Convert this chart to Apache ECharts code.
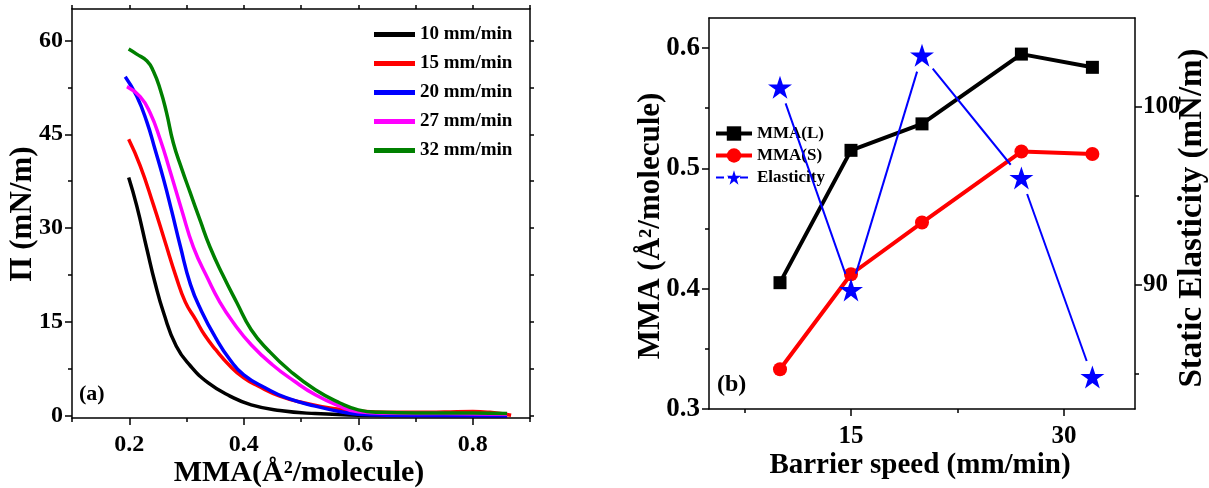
<!DOCTYPE html>
<html>
<head>
<meta charset="utf-8">
<script src="https://cdn.jsdelivr.net/npm/echarts@6/dist/echarts.min.js"></script>
<style>
  html, body { margin: 0; padding: 0; background: #fff; }
  #chart { width: 1209px; height: 488px; }
</style>
</head>
<body>
<div id="chart"></div>
<script>
// ---- Panel (a): surface pressure isotherms, [MMA, Π] pairs ----
const isotherm10 = [[0.199,38.1],[0.213,33.6],[0.231,26.6],[0.245,21.3],[0.260,16.5],[0.282,11.2],[0.307,8.0],[0.338,5.3],[0.376,3.2],[0.413,1.8],[0.463,0.9],[0.525,0.4],[0.60,0.15],[0.70,0.05],[0.80,0.05],[0.86,0.02]];
const isotherm15 = [[0.199,44.2],[0.219,40.0],[0.242,33.8],[0.262,28.0],[0.282,22.2],[0.298,18.2],[0.316,15.4],[0.332,12.9],[0.351,10.6],[0.376,8.0],[0.400,6.1],[0.425,4.8],[0.463,3.2],[0.506,2.1],[0.556,1.2],[0.60,0.8],[0.65,0.6],[0.70,0.6],[0.75,0.65],[0.80,0.75],[0.83,0.6],[0.867,0.15]];
const isotherm20 = [[0.193,54.2],[0.213,51.1],[0.231,46.9],[0.245,42.6],[0.260,37.8],[0.274,32.8],[0.289,27.2],[0.307,21.0],[0.326,16.8],[0.351,12.5],[0.376,9.0],[0.400,6.6],[0.438,4.5],[0.475,2.9],[0.525,1.6],[0.575,0.6],[0.60,0.3],[0.65,0.15],[0.75,0.1],[0.86,0.05]];
const isotherm27 = [[0.196,52.6],[0.219,51.0],[0.236,48.5],[0.254,44.2],[0.271,39.2],[0.292,32.8],[0.312,27.0],[0.338,21.8],[0.357,18.4],[0.382,14.9],[0.413,11.4],[0.450,8.2],[0.488,5.6],[0.525,3.4],[0.562,1.8],[0.60,0.7],[0.65,0.45],[0.75,0.4],[0.86,0.3]];
const isotherm32 = [[0.199,58.6],[0.213,57.8],[0.231,56.7],[0.242,55.1],[0.254,52.2],[0.265,48.5],[0.277,43.6],[0.292,39.4],[0.306,35.8],[0.324,31.2],[0.341,27.0],[0.363,22.6],[0.388,18.1],[0.413,13.8],[0.444,10.4],[0.481,7.2],[0.525,4.2],[0.568,2.1],[0.60,1.0],[0.637,0.6],[0.70,0.5],[0.80,0.5],[0.86,0.4]];
const isothermNames = ['10 mm/min', '15 mm/min', '20 mm/min', '27 mm/min', '32 mm/min'];
const isothermColors = ['#000000', '#ff0000', '#0000ff', '#ff00ff', '#008000'];

const mmaTicks = [0.2, 0.4, 0.6, 0.8];
const mmaMinorTicks = [0.1, 0.3, 0.5, 0.7, 0.9];
const piTicks = [0, 15, 30, 45, 60];
const piMinorTicks = [7.5, 22.5, 37.5, 52.5];

// ---- Panel (b): MMA and static elasticity vs barrier speed ----
const barrierSpeed = [10, 15, 20, 27, 32];
const mmaL = [0.405, 0.515, 0.537, 0.595, 0.584];
const mmaS = [0.333, 0.412, 0.455, 0.514, 0.512];
const elasticity = [101.1, 89.7, 102.9, 96.0, 84.8];

const speedTicks = [15, 30];
const speedMinorTicks = [7.5, 22.5];
const mmaBTicks = [0.3, 0.4, 0.5, 0.6];
const mmaBMinorTicks = [0.35, 0.45, 0.55];
const elasTicks = [90, 100];
const elasMinorTicks = [85, 95];

const FONT = '"Liberation Serif", "Times New Roman", serif';
const STAR = 'path://M50,0 L61.8,35.4 L100,35.4 L69.1,57.3 L80.9,95.1 L50,72 L19.1,95.1 L30.9,57.3 L0,35.4 L38.2,35.4 Z';

const chart = echarts.init(document.getElementById('chart'));

function axis(opts) {
  return {
    type: 'value',
    gridIndex: opts.grid,
    position: opts.pos,
    min: opts.min,
    max: opts.max,
    splitLine: { show: false },
    axisLine: { show: !!opts.line, onZero: false, lineStyle: { color: '#000', width: 1.5 } },
    axisTick: opts.ticks ? {
      show: true, inside: false, length: opts.len,
      customValues: opts.ticks, lineStyle: { color: '#000', width: 1.5 }
    } : { show: false },
    axisLabel: opts.labels ? {
      show: true, customValues: opts.labels, margin: opts.margin,
      formatter: opts.fmt || (v => String(v)),
      fontFamily: FONT, fontWeight: 'bold', fontSize: opts.labelSize, color: '#000'
    } : { show: false }
  };
}

const fmt1 = v => v.toFixed(1);

const xAxes = [
  axis({ grid: 0, pos: 'bottom', min: 0.1, max: 0.9, ticks: mmaTicks, len: 7, labels: mmaTicks, labelSize: 24, margin: 15, line: true, fmt: fmt1 }),
  axis({ grid: 0, pos: 'bottom', min: 0.1, max: 0.9, ticks: mmaMinorTicks, len: 4 }),
  axis({ grid: 0, pos: 'top', min: 0.1, max: 0.9, ticks: mmaTicks.concat(mmaMinorTicks), len: 4, line: true }),
  axis({ grid: 1, pos: 'bottom', min: 5, max: 35, ticks: speedTicks, len: 7, labels: speedTicks, labelSize: 25, margin: 15, line: true }),
  axis({ grid: 1, pos: 'bottom', min: 5, max: 35, ticks: speedMinorTicks, len: 4 }),
  axis({ grid: 1, pos: 'top', min: 5, max: 35, line: true })
];

const yAxes = [
  axis({ grid: 0, pos: 'left', min: -0.3, max: 65, ticks: piTicks, len: 7, labels: piTicks, labelSize: 24, margin: 9, line: true }),
  axis({ grid: 0, pos: 'left', min: -0.3, max: 65, ticks: piMinorTicks, len: 4 }),
  axis({ grid: 0, pos: 'right', min: -0.3, max: 65, ticks: piTicks.concat(piMinorTicks), len: 4, line: true }),
  axis({ grid: 1, pos: 'left', min: 0.3, max: 0.625, ticks: mmaBTicks, len: 7, labels: mmaBTicks, labelSize: 27, margin: 9, line: true, fmt: fmt1 }),
  axis({ grid: 1, pos: 'left', min: 0.3, max: 0.625, ticks: mmaBMinorTicks, len: 4 }),
  axis({ grid: 1, pos: 'right', min: 83, max: 105, ticks: elasTicks, len: 7, labels: elasTicks, labelSize: 25, margin: 8, line: true }),
  axis({ grid: 1, pos: 'right', min: 83, max: 105, ticks: elasMinorTicks, len: 4 })
];

const isotherms = [isotherm10, isotherm15, isotherm20, isotherm27, isotherm32];
const isothermSeries = isotherms.map((d, i) => ({
  name: isothermNames[i],
  type: 'line',
  xAxisIndex: 0,
  yAxisIndex: 0,
  data: d,
  symbol: 'none',
  smooth: 0.5,
  lineStyle: { color: isothermColors[i], width: 3.5 },
  itemStyle: { color: isothermColors[i] },
  emphasis: { disabled: true },
  z: 2 + i
}));

// elasticity connector segments, trimmed so they stop short of the stars
const elasSegments = barrierSpeed.slice(0, -1).map((s, i) =>
  [s, elasticity[i], barrierSpeed[i + 1], elasticity[i + 1]]);

const panelBSeries = [
  {
    name: 'MMA(L)', type: 'line', xAxisIndex: 3, yAxisIndex: 3,
    data: barrierSpeed.map((s, i) => [s, mmaL[i]]),
    symbol: 'rect', symbolSize: 13,
    lineStyle: { color: '#000', width: 4 }, itemStyle: { color: '#000' },
    emphasis: { disabled: true }, z: 3
  },
  {
    name: 'MMA(S)', type: 'line', xAxisIndex: 3, yAxisIndex: 3,
    data: barrierSpeed.map((s, i) => [s, mmaS[i]]),
    symbol: 'circle', symbolSize: 14,
    lineStyle: { color: '#ff0000', width: 4 }, itemStyle: { color: '#ff0000' },
    emphasis: { disabled: true }, z: 4
  },
  {
    type: 'custom', xAxisIndex: 3, yAxisIndex: 5,
    data: elasSegments,
    encode: { x: [0, 2], y: [1, 3] },
    silent: true, z: 5,
    renderItem: function (params, api) {
      const p0 = api.coord([api.value(0), api.value(1)]);
      const p1 = api.coord([api.value(2), api.value(3)]);
      const dx = p1[0] - p0[0], dy = p1[1] - p0[1];
      const len = Math.hypot(dx, dy);
      const gap = 17;
      if (len <= 2 * gap) return null;
      const ux = dx / len, uy = dy / len;
      return {
        type: 'line',
        shape: { x1: p0[0] + ux * gap, y1: p0[1] + uy * gap, x2: p1[0] - ux * gap, y2: p1[1] - uy * gap },
        style: { stroke: '#0000ff', lineWidth: 2 }
      };
    }
  },
  {
    name: 'Elasticity', type: 'line', xAxisIndex: 3, yAxisIndex: 5,
    data: barrierSpeed.map((s, i) => [s, elasticity[i]]),
    symbol: STAR, symbolSize: [24, 23],
    lineStyle: { color: '#0000ff', width: 2, opacity: 0 },
    itemStyle: { color: '#0000ff' },
    emphasis: { disabled: true }, z: 6
  }
];

const titleStyle = (text, size) => ({
  text: text, fontFamily: FONT, fontWeight: 'bold', fontSize: size,
  fill: '#000', align: 'center', verticalAlign: 'middle'
});

const option = {
  backgroundColor: '#fff',
  animation: false,
  grid: [
    { left: 72, top: 9, width: 458, height: 409, containLabel: false },
    { left: 709, top: 18, width: 426, height: 391, containLabel: false }
  ],
  xAxis: xAxes,
  yAxis: yAxes,
  legend: [
    {
      orient: 'vertical', left: 374, top: 25, padding: 0,
      icon: 'rect', itemWidth: 41, itemHeight: 5, itemGap: 10,
      data: isothermNames,
      textStyle: { fontFamily: FONT, fontWeight: 'bold', fontSize: 19, color: '#000', lineHeight: 19 },
      selectedMode: false
    },
    {
      orient: 'vertical', left: 714, top: 125, padding: 0,
      itemWidth: 36, itemHeight: 18, itemGap: 5,
      data: [
        { name: 'MMA(L)', lineStyle: { width: 4 } },
        { name: 'MMA(S)', lineStyle: { width: 4 } },
        { name: 'Elasticity', lineStyle: { type: 'dashed', width: 2, opacity: 1, color: '#0000ff' } }
      ],
      textStyle: { fontFamily: FONT, fontWeight: 'bold', fontSize: 17, color: '#000', lineHeight: 17 },
      selectedMode: false
    }
  ],
  graphic: [
    { type: 'text', x: 79, y: 394, style: { text: '(a)', fontFamily: FONT, fontWeight: 'bold', fontSize: 22, fill: '#000', align: 'left', verticalAlign: 'middle' } },
    { type: 'text', x: 717, y: 385, style: { text: '(b)', fontFamily: FONT, fontWeight: 'bold', fontSize: 24, fill: '#000', align: 'left', verticalAlign: 'middle' } },
    { type: 'text', x: 23, y: 214, rotation: Math.PI / 2, style: titleStyle('Π (mN/m)', 31) },
    { type: 'text', x: 299, y: 473, style: titleStyle('MMA(Å²/molecule)', 30) },
    { type: 'text', x: 651, y: 226, rotation: Math.PI / 2, style: titleStyle('MMA (Å²/molecule)', 31) },
    { type: 'text', x: 920, y: 466, style: titleStyle('Barrier speed (mm/min)', 29) },
    { type: 'text', x: 1192, y: 218, rotation: Math.PI / 2, style: titleStyle('Static Elasticity (mN/m)', 33) }
  ],
  series: isothermSeries.concat(panelBSeries)
};

chart.setOption(option);
</script>
</body>
</html>
